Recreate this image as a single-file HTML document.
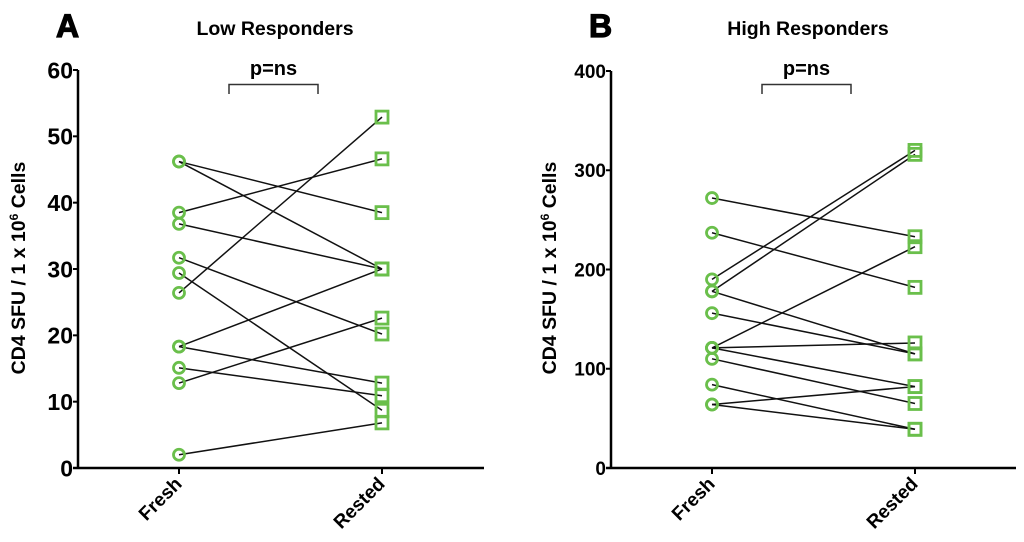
<!DOCTYPE html>
<html><head><meta charset="utf-8"><style>
html,body{margin:0;padding:0;background:#fff;}
svg{display:block;font-family:"Liberation Sans",Arial,sans-serif;}
</style></head><body>
<svg id="chart" width="1024" height="542" viewBox="0 0 1024 542" xmlns="http://www.w3.org/2000/svg"></svg>
<script>
// Panel A data (Low Responders)
const categories = ["Fresh", "Rested"];
const lowFresh =   [46.2, 46.2, 38.5, 36.8, 31.7, 29.4, 26.4, 18.3, 18.3, 15.1, 12.8, 2.0];
const lowRested =  [38.5, 30.0, 46.6, 30.0, 20.2, 8.7, 52.9, 30.0, 12.8, 10.9, 22.6, 6.8];
const lowTicks = [0, 10, 20, 30, 40, 50, 60];
// Panel B data (High Responders)
const highFresh =  [272, 237, 190, 178, 178, 156, 121, 121, 121, 110, 84, 64, 64];
const highRested = [233, 182, 320, 316, 115, 115, 126, 223, 82, 65, 39, 82, 39];
const highTicks = [0, 100, 200, 300, 400];

const NS = "http://www.w3.org/2000/svg";
const svg = document.getElementById("chart");
function el(tag, attrs, parent) {
  const e = document.createElementNS(NS, tag);
  for (const k in attrs) e.setAttribute(k, attrs[k]);
  (parent || svg).appendChild(e);
  return e;
}
function txt(str, attrs, parent) { const t = el("text", attrs, parent); t.textContent = str; return t; }

function panel(cfg) {
  const g = el("g", {});
  
  
  const y = v => cfg.y0 - (v / cfg.max) * (cfg.y0 - cfg.yTop);
  const x = i => cfg.xs[i];
  const L = txt(cfg.letter, {x: cfg.letterX, y: 37, "font-size": 32, "font-weight": 900, fill: "#000", stroke: "#000", "stroke-width": 1.2}, g);
  
  
  const T = txt(cfg.title, {x: cfg.titleX, y: 35, "font-size": 19.5, "font-weight": "bold", "text-anchor": "middle"}, g);
  
  
  const P = txt("p=ns", {x: (cfg.br[0] + cfg.br[1]) / 2, y: 75, "font-size": 20, "font-weight": "bold", "text-anchor": "middle"}, g);
  
  
  const B = el("path", {d: `M${cfg.br[0]} 94 V84.5 H${cfg.br[1]} V94`, fill: "none", stroke: "#333", "stroke-width": 1.5}, g);
  
  
  const ya = el("line", {x1: cfg.ax, y1: cfg.yTop, x2: cfg.ax, y2: cfg.y0 + 1, stroke: "#000", "stroke-width": 2.5}, g);
  
  
  const xa = el("line", {x1: cfg.ax - 5, y1: cfg.y0, x2: cfg.xEnd, y2: cfg.y0, stroke: "#000", "stroke-width": 2.5}, g);
  
  
  cfg.ticks.forEach(t => {
    el("line", {x1: cfg.ax - 5, y1: y(t), x2: cfg.ax, y2: y(t), stroke: "#000", "stroke-width": 2}, g);
    const tl = txt(String(t), {x: cfg.ax - 5, y: y(t) + cfg.tickFs * 0.36, "font-size": cfg.tickFs, "font-weight": "bold", "text-anchor": "end"}, g);
    
    
  });
  categories.forEach((c, i) => {
    el("line", {x1: x(i), y1: cfg.y0, x2: x(i), y2: cfg.y0 + 6, stroke: "#000", "stroke-width": 2}, g);
    const cl = txt(c, {x: x(i) + 4, y: cfg.y0 + 17, "font-size": 19, "font-weight": "bold", "text-anchor": "end", transform: `rotate(-45 ${x(i) + 4} ${cfg.y0 + 17})`}, g);
    
    
  });
  const yt = el("text", {x: 0, y: 0, "font-size": 19.5, "font-weight": "bold", "text-anchor": "middle", transform: `translate(${cfg.ytX} 268) rotate(-90)`}, g);
  
  
  yt.innerHTML = 'CD4 SFU / 1 x 10<tspan dy="-7" font-size="12">6</tspan><tspan dy="7"> Cells</tspan>';
  cfg.fresh.forEach((f, i) => {
    const ln = el("line", {x1: x(0), y1: y(f), x2: x(1), y2: y(cfg.rested[i]), stroke: "#111", "stroke-width": 1.5}, g);
    
    
  });
  cfg.fresh.forEach(f => {
    const c = el("circle", {cx: x(0), cy: y(f), r: 5.5, fill: "none", stroke: "#6abf4b", "stroke-width": 2.8}, g);
    
    
  });
  cfg.rested.forEach(r => {
    const s = el("rect", {x: x(1) - 6, y: y(r) - 6, width: 12, height: 12, fill: "none", stroke: "#6abf4b", "stroke-width": 2.8}, g);
    
    
  });
}

panel({name: "panel-a-low-responders", letter: "A", letterX: 56, title: "Low Responders", titleX: 275,
  br: [229, 318], ax: 78, xEnd: 484, y0: 468, yTop: 70, max: 60, xs: [179, 382],
  ticks: lowTicks, tickFs: 23, ytX: 25, fresh: lowFresh, rested: lowRested});
panel({name: "panel-b-high-responders", letter: "B", letterX: 589, title: "High Responders", titleX: 808,
  br: [762, 851], ax: 611, xEnd: 1016, y0: 468, yTop: 71, max: 400, xs: [712, 915],
  ticks: highTicks, tickFs: 19, ytX: 556, fresh: highFresh, rested: highRested});
</script>
</body></html>
